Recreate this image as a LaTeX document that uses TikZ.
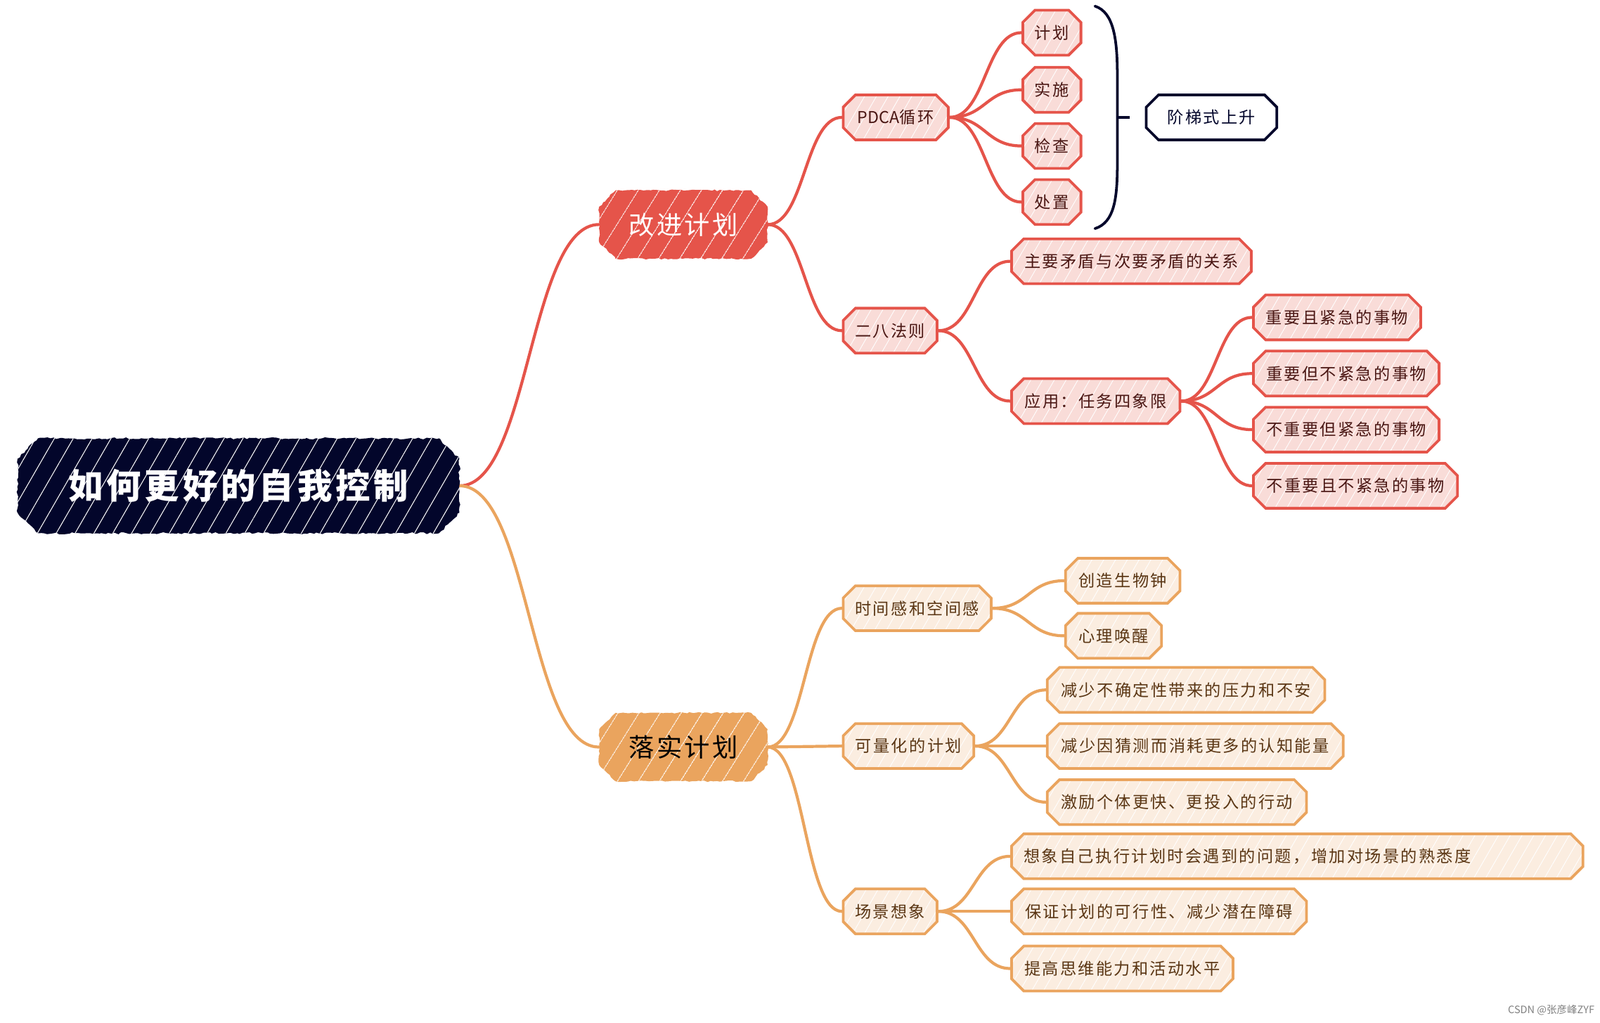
\documentclass[tikz,border=0pt]{standalone}
\usepackage{fontspec}
\newfontfamily\cjk[LetterSpace=10]{Noto Sans CJK SC}
\newfontfamily\cjkmid[LetterSpace=9]{Noto Sans CJK SC}
\newfontfamily\cjkroot[LetterSpace=10]{Noto Sans CJK SC}
\newfontfamily\cjkplain{Noto Sans CJK SC}
\usetikzlibrary{shapes.misc,patterns.meta,decorations.pathmorphing,calc}
\definecolor{cred}{HTML}{E5544A}
\definecolor{credl}{HTML}{F9DCD8}
\definecolor{credt}{HTML}{4A1714}
\definecolor{cor}{HTML}{EAA45E}
\definecolor{corl}{HTML}{FBEDE0}
\definecolor{cort}{HTML}{5A3614}
\definecolor{cnavy}{HTML}{03062B}
\pgfdeclarelayer{bg}
\pgfsetlayers{bg,main}
\newcommand\mconn[3]{\draw[#1] let \p1=(#2.east), \p2=(#3.west) in (\p1) .. controls ({(\x1+\x2)/2},\y1) and ({(\x1+\x2)/2},\y2) .. (\p2);}
\begin{document}
\begin{tikzpicture}[x=1pt,y=-1pt,
  cbox/.style={chamfered rectangle, chamfered rectangle xsep=6pt, chamfered rectangle ysep=6pt,
    line width=2.6pt, minimum height=44pt, inner xsep=4pt, inner ysep=3pt, anchor=west,
    font=\cjk\fontsize{16}{18}\selectfont},
  rbox/.style={cbox, draw=cred, text=credt, preaction={fill=credl},
    preaction={pattern={Lines[angle=60,distance=10pt,line width=0.6pt]}, pattern color=white}},
  obox/.style={cbox, draw=cor, text=cort, preaction={fill=corl},
    preaction={pattern={Lines[angle=60,distance=10pt,line width=0.6pt]}, pattern color=white}},
  nbox/.style={cbox, draw=cnavy, text=cnavy, fill=white},
  mainbox/.style={chamfered rectangle, chamfered rectangle xsep=8pt, chamfered rectangle ysep=8pt,
    minimum width=165pt, minimum height=67pt, inner sep=4pt, anchor=west,
    font=\cjkmid\fontsize{25}{28}\selectfont,
    decoration={random steps,segment length=3pt,amplitude=0.8pt}, decorate,
    postaction={pattern={Lines[angle=58,distance=17pt,line width=0.6pt]}, pattern color=white}},
  rline/.style={draw=cred, line width=2.9pt, line cap=round},
  oline/.style={draw=cor, line width=2.9pt, line cap=round},
]
\useasboundingbox (0,0) rectangle (1568,1002);

% root and main branches
\node[chamfered rectangle, chamfered rectangle xsep=10pt, chamfered rectangle ysep=10pt,
  minimum width=433pt, minimum height=93pt, inner sep=4pt, anchor=west,
  fill=cnavy, text=white, font=\cjkroot\bfseries\fontsize{34}{38}\selectfont,
  decoration={random steps,segment length=3pt,amplitude=1pt}, decorate,
  postaction={pattern={Lines[angle=60,distance=16pt,line width=0.7pt]}, pattern color=white}]
  (root) at (17,476) {如何更好的自我控制};
\node[mainbox, fill=cred, text=white] (gj) at (587,220) {改进计划};
\node[mainbox, fill=cor, text=black] (ls) at (587,732) {落实计划};

% red branch
\node[rbox, minimum width=103pt] (pdca) at (825,115) {{\cjkplain PDCA}循环};
\node[rbox, minimum width=57pt] (a1) at (1001,32) {计划};
\node[rbox, minimum width=57pt] (a2) at (1001,88) {实施};
\node[rbox, minimum width=57pt] (a3) at (1001,143) {检查};
\node[rbox, minimum width=57pt] (a4) at (1001,198) {处置};
\node[nbox, minimum width=128pt] (jt) at (1122,115) {阶梯式上升};
\node[rbox, minimum width=92pt] (e8) at (825,324) {二八法则};
\node[rbox, minimum width=235pt] (zy) at (990,256) {主要矛盾与次要矛盾的关系};
\node[rbox, minimum width=165pt] (yy) at (990,393) {应用：任务四象限};
\node[rbox, minimum width=164pt] (q1) at (1227,311) {重要且紧急的事物};
\node[rbox, minimum width=182pt] (q2) at (1227,366) {重要但不紧急的事物};
\node[rbox, minimum width=182pt] (q3) at (1227,421) {不重要但紧急的事物};
\node[rbox, minimum width=200pt] (q4) at (1227,476) {不重要且不紧急的事物};

% orange branch
\node[obox, minimum width=145pt] (sj) at (825,596) {时间感和空间感};
\node[obox, minimum width=112pt] (c1) at (1043,569) {创造生物钟};
\node[obox, minimum width=94pt] (c2) at (1043,623) {心理唤醒};
\node[obox, minimum width=128pt] (kl) at (825,731) {可量化的计划};
\node[obox, minimum width=272pt] (k1) at (1025,676) {减少不确定性带来的压力和不安};
\node[obox, minimum width=290pt] (k2) at (1025,731) {减少因猜测而消耗更多的认知能量};
\node[obox, minimum width=254pt] (k3) at (1025,786) {激励个体更快、更投入的行动};
\node[obox, minimum width=92pt] (cj) at (825,893) {场景想象};
\node[obox, text width=536pt, align=left, inner xsep=6pt] (s1) at (990,839) {想象自己执行计划时会遇到的问题，增加对场景的熟悉度};
\node[obox, minimum width=289pt] (s2) at (990,893) {保证计划的可行性、减少潜在障碍};
\node[obox, minimum width=217pt] (s3) at (990,949) {提高思维能力和活动水平};

% bracket
\draw[cnavy, line width=2.6pt, line cap=round]
  (1073,6) .. controls (1092,12) and (1095,40) .. (1095,75) -- (1095,160)
  .. controls (1095,195) and (1092,218) .. (1073,224);
\draw[cnavy, line width=2.6pt] (1095,115) -- (1107,115);

% watermark
\node[anchor=east, text=gray, font=\cjkplain\fontsize{10}{11}\selectfont] (wm) at (1566,990) {CSDN @张彦峰ZYF};

\begin{pgfonlayer}{bg}
\mconn{rline}{root}{gj}
\mconn{oline}{root}{ls}
\mconn{rline}{gj}{pdca}
\mconn{rline}{gj}{e8}
\mconn{rline}{pdca}{a1}
\mconn{rline}{pdca}{a2}
\mconn{rline}{pdca}{a3}
\mconn{rline}{pdca}{a4}
\mconn{rline}{e8}{zy}
\mconn{rline}{e8}{yy}
\mconn{rline}{yy}{q1}
\mconn{rline}{yy}{q2}
\mconn{rline}{yy}{q3}
\mconn{rline}{yy}{q4}
\mconn{oline}{ls}{sj}
\mconn{oline}{ls}{kl}
\mconn{oline}{ls}{cj}
\mconn{oline}{sj}{c1}
\mconn{oline}{sj}{c2}
\mconn{oline}{kl}{k1}
\mconn{oline}{kl}{k2}
\mconn{oline}{kl}{k3}
\mconn{oline}{cj}{s1}
\mconn{oline}{cj}{s2}
\mconn{oline}{cj}{s3}
\end{pgfonlayer}
\end{tikzpicture}
\end{document}
